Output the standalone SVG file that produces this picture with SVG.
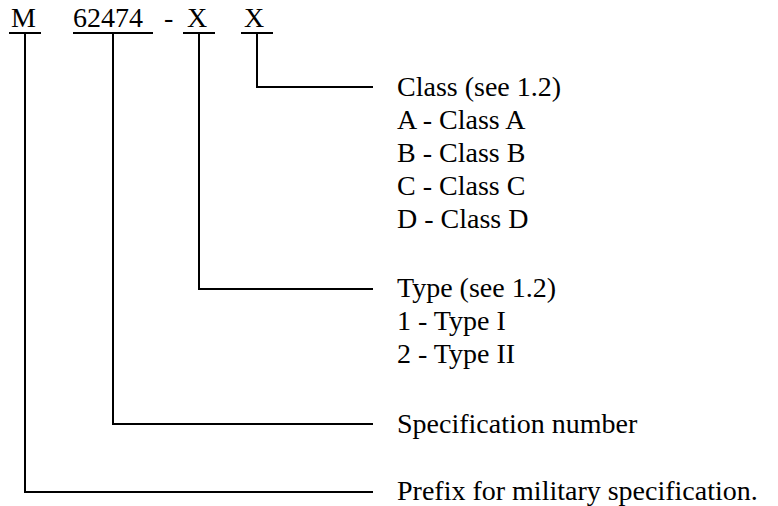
<svg xmlns="http://www.w3.org/2000/svg" width="778" height="506" viewBox="0 0 778 506">
<style>
text{font-family:"Liberation Serif","Times New Roman",serif;font-size:28px;fill:#000}
.ln{fill:none;stroke:#000;stroke-width:2}
</style>
<rect width="778" height="506" fill="#fff"/>
<g id="code">
<text x="11" y="27">M</text>
<text x="73" y="27">62474</text>
<text x="164" y="27">-</text>
<text x="187" y="27">X</text>
<text x="244" y="27">X</text>
<g class="ln">
<line x1="9" y1="33" x2="41" y2="33"/>
<line x1="73" y1="33" x2="153" y2="33"/>
<line x1="183" y1="33" x2="215" y2="33"/>
<line x1="241" y1="33" x2="273" y2="33"/>
</g>
</g>
<g id="connectors" class="ln">
<polyline points="257,33 257,87 373,87"/>
<polyline points="199,33 199,289 373,289"/>
<polyline points="113,33 113,424 373,424"/>
<polyline points="25,33 25,492 373,492"/>
</g>
<g id="class">
<text x="397" y="96">Class (see 1.2)</text>
<text x="397" y="129">A - Class A</text>
<text x="397" y="162">B - Class B</text>
<text x="397" y="195">C - Class C</text>
<text x="397" y="228">D - Class D</text>
</g>
<g id="type">
<text x="397" y="297">Type (see 1.2)</text>
<text x="397" y="330">1 - Type I</text>
<text x="397" y="363">2 - Type II</text>
</g>
<g id="spec">
<text x="397" y="433">Specification number</text>
</g>
<g id="prefix">
<text x="397" y="500">Prefix for military specification.</text>
</g>
</svg>
